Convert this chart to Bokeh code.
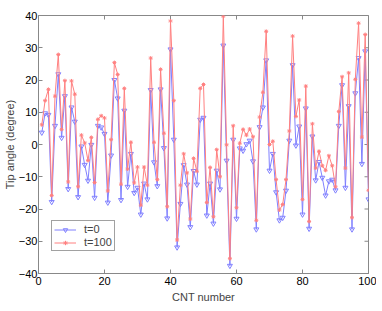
import math
from bokeh.plotting import figure
from bokeh.models import FixedTicker, Range1d
from bokeh.embed import file_html
from bokeh.resources import INLINE

cnt = list(range(1, 101))
t0 = [3.7, 9.7, 9.2, -17.8, 5.8, 21.8, 2.1, 15.0, -13.8, 11.5,
      7.1, -16.3, -0.6, -6.3, -11.2, -0.1, -16.5, 5.8, 5.3, 3.3,
      -18.0, -3.4, 20.0, 14.3, -17.2, 10.5, -13.1, -2.9, -15.0, -13.4,
      -21.7, -12.1, -17.0, 16.9, -5.5, -12.9, 17.1, -1.1, -22.9, 29.5,
      1.5, -31.9, -18.4, -6.4, -12.4, -25.6, -8.2, -12.4, 7.7, 8.3,
      -22.0, -12.1, -24.5, -8.1, -13.9, 30.7, -5.0, -37.6, 1.5, -23.0,
      -1.2, -1.9, 0.1, 1.2, -5.2, -26.3, 5.4, 11.5, 26.1, -8.1,
      -2.9, -14.8, -23.5, -22.7, -14.3, 1.2, 24.6, -0.3, 5.6, -21.7,
      11.2, -26.1, 2.5, -11.1, -5.4, -10.3, -15.8, -11.4, -10.9, -14.2,
      5.8, 18.4, -13.4, 11.9, -26.3, 15.9, 26.8, -6.0, 28.9, -17.0]
t100 = [6.1, 13.6, 17.1, -15.8, 15.0, 27.9, 4.7, 19.8, -11.6, 19.7,
        15.6, -13.1, 2.9, 0.5, -5.0, 2.2, -11.8, 7.8, 8.9, 8.2,
        -14.4, 1.5, 25.4, 21.7, -12.3, 17.4, -7.6, 0.7, -11.9, -7.0,
        -18.8, -7.0, -12.6, 26.8, 0.7, -10.9, 23.3, 3.5, -19.3, 38.3,
        13.6, -29.6, -12.6, -2.9, -8.8, -23.1, -4.3, -8.3, 17.4, 18.6,
        -18.0, -7.1, -22.4, -1.6, -10.0, 39.8, -0.1, -35.4, 5.8, -19.6,
        0.4, 4.7, 2.9, 4.8, 2.4, -23.5, 8.5, 16.2, 35.1, 0.0,
        1.0, -10.9, -20.3, -18.6, -10.9, 4.2, 33.6, 8.7, 13.8, -17.0,
        18.1, -23.9, 6.4, -7.3, -2.1, -6.6, -8.0, -3.5, -6.6, -13.1,
        10.2, 21.0, -7.3, 22.2, -22.7, 20.2, 37.6, 2.3, 34.1, -14.2]
x_ticks = [0, 20, 40, 60, 80, 100]
y_ticks = [-40, -30, -20, -10, 0, 10, 20, 30, 40]

BLUE = "#8080ff"
RED = "#ff8080"
AXC = "#888888"
FONT = "Liberation Sans"

p = figure(width=376, height=305, output_backend="svg", toolbar_location=None,
           x_range=Range1d(0, 100), y_range=Range1d(-40, 40),
           min_border_left=37, min_border_right=8, min_border_top=15, min_border_bottom=30,
           outline_line_color=AXC)
p.grid.visible = False
p.background_fill_color = "white"

for ax in (p.xaxis[0], p.yaxis[0]):
    ax.major_tick_in = 4
    ax.major_tick_out = 0
    ax.minor_tick_line_color = None
    ax.axis_line_color = AXC
    ax.major_tick_line_color = AXC
    ax.major_label_text_font = FONT
    ax.major_label_text_font_size = "11px"
    ax.major_label_text_color = "black"
    ax.axis_label_text_font = FONT
    ax.axis_label_text_font_size = "11px"
    ax.axis_label_text_font_style = "normal"

p.xaxis[0].major_label_standoff = 3
p.yaxis[0].major_label_standoff = 1
p.xaxis[0].axis_label_standoff = 3
p.yaxis[0].axis_label_standoff = 0
p.xaxis[0].ticker = FixedTicker(ticks=x_ticks)
p.yaxis[0].ticker = FixedTicker(ticks=y_ticks)
p.xaxis[0].axis_label = "CNT number"
p.yaxis[0].axis_label = "Tip angle (degree)"

# inward ticks on the top and right edges of the box
p.scatter(x_ticks, [40] * len(x_ticks), marker="dash", angle=math.pi / 2, size=8,
          line_color=AXC, line_width=1)
p.scatter([100] * len(y_ticks), y_ticks, marker="dash", size=8,
          line_color=AXC, line_width=1)

p.line(cnt, t0, line_color=BLUE, line_width=1, legend_label="t=0")
p.scatter(cnt, t0, marker="inverted_triangle", size=5, line_color=BLUE,
          fill_color="white", fill_alpha=0.0, line_width=1, legend_label="t=0")
p.line(cnt, t100, line_color=RED, line_width=1, legend_label="t=100")
p.scatter(cnt, t100, marker="asterisk", size=4, line_color=RED, line_width=1,
          legend_label="t=100")

lg = p.legend[0]
lg.location = (13, 22)
lg.border_line_color = "#444444"
lg.label_text_font = FONT
lg.label_text_font_size = "11px"
lg.glyph_width = 22
lg.glyph_height = 11
lg.spacing = 1
lg.padding = 2
lg.margin = 0
lg.label_standoff = 8
lg.label_height = 11

open("out.html", "w").write(file_html(p, INLINE))
